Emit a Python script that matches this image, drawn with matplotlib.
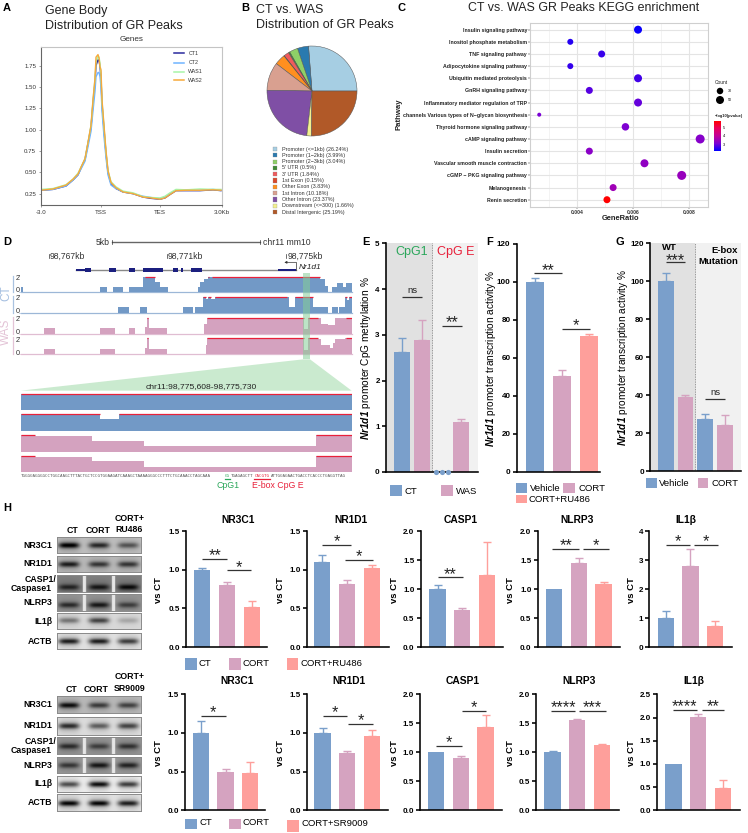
import numpy as np
import matplotlib
matplotlib.use("Agg")
import matplotlib.pyplot as plt
from matplotlib.colors import LinearSegmentedColormap, Normalize
from matplotlib.cm import ScalarMappable
from matplotlib.patches import Rectangle, Polygon

plt.rcParams['font.family'] = ['Liberation Sans', 'DejaVu Sans']
plt.rcParams['mathtext.fontset'] = 'custom'
plt.rcParams['mathtext.rm'] = 'Liberation Sans'
plt.rcParams['mathtext.it'] = 'Liberation Sans:italic'
plt.rcParams['mathtext.bf'] = 'Liberation Sans:bold'
plt.rcParams['mathtext.bfit'] = 'Liberation Sans:italic:bold'

W, H = 748, 833
BLUE, PINK, SALMON = '#7a9fcb', '#d5a3c0', '#fe9f9b'
RED = '#e8203a'
GREEN_T = '#2aa65a'

# ---------- A: profile ----------
profile_bins = [0, 12, 25, 32, 37, 40, 44, 47, 50, 52, 54, 55, 57, 58, 59, 60, 61, 63, 65, 67, 70, 75, 82, 92, 102, 110, 119, 124, 129, 135, 145, 159, 172, 180]
ct1_vals = [.29, .30, .34, .41, .47, .55, .65, .84, 1.03, 1.31, 1.55, 1.75, 1.82, 1.81, 1.74, 1.60, 1.30, 1.00, .72, .50, .37, .31, .27, .25, .21, .195, .185, .20, .24, .285, .285, .285, .295, .285]
ct2_vals = [.29, .30, .34, .41, .47, .54, .63, .80, .98, 1.22, 1.45, 1.62, 1.67, 1.67, 1.62, 1.50, 1.22, .92, .67, .47, .35, .31, .27, .25, .22, .205, .19, .21, .25, .29, .29, .29, .30, .29]
was1_vals = [.30, .31, .355, .42, .49, .56, .66, .85, 1.05, 1.34, 1.60, 1.80, 1.86, 1.85, 1.78, 1.64, 1.33, 1.03, .74, .52, .39, .33, .28, .26, .215, .205, .20, .22, .26, .30, .295, .305, .30, .30]
was2_vals = [.29, .305, .35, .42, .48, .56, .66, .85, 1.05, 1.35, 1.60, 1.85, 1.88, 1.84, 1.74, 1.70, 1.35, 1.05, .75, .52, .38, .32, .27, .25, .21, .20, .185, .20, .24, .285, .29, .29, .295, .29]
profile_names = ['CT1', 'CT2', 'WAS1', 'WAS2']
profile_colors = ['#2a2a9e', '#6fb4ff', '#a8f5a8', '#f7a93b']
profile_ticks = [0, 60, 119, 181]
profile_ticklabels = ['-3.0', 'TSS', 'TES', '3.0Kb']
profile_yticks = [.25, .5, .75, 1.0, 1.25, 1.5, 1.75]

# ---------- B: pie ----------
pie_labels = ['Promoter (<=1kb) (26.24%)', 'Promoter (1\u22122kb) (3.99%)', 'Promoter (2\u22123kb) (3.04%)', "5' UTR (0.5%)",
              "3' UTR (1.84%)", '1st Exon (0.15%)', 'Other Exon (3.83%)', '1st Intron (10.18%)', 'Other Intron (23.37%)',
              'Downstream (<=300) (1.66%)', 'Distal Intergenic (25.19%)']
pie_values = [26.24, 3.99, 3.04, .5, 1.84, .15, 3.83, 10.18, 23.37, 1.66, 25.19]
pie_colors = ['#a6cee3', '#2a7aaf', '#8ed067', '#3f8a35', '#ef5a5c', '#d9482b', '#ff8f1f', '#d9a090', '#7f4fa5', '#f2f08f', '#b15928']

# ---------- C: KEGG ----------
kegg_names = ['Insulin signaling pathway', 'Inositol phosphate metabolism', 'TNF signaling pathway', 'Adipocytokine signaling pathway',
              'Ubiquitin mediated proteolysis', 'GnRH signaling pathway', 'Inflammatory mediator regulation of TRP',
              'channels Various types of N\u2212glycan biosynthesis', 'Thyroid hormone signaling pathway', 'cAMP signaling pathway',
              'Insulin secretion', 'Vascular smooth muscle contraction', 'cGMP \u2212 PKG signaling pathway', 'Melanogenesis', 'Renin secretion']
kegg_ratio = [.00618, .00376, .00488, .00376, .00618, .00444, .00618, .00265, .00573, .0084, .00444, .00641, .00774, .00529, .00507]
kegg_diam = [8, 6, 7, 6, 8, 7, 8, 4, 7.5, 9, 7, 8, 9, 7, 7]
kegg_logp = [2.3, 2.5, 2.65, 2.6, 2.7, 2.85, 2.95, 3.1, 3.15, 3.25, 3.3, 3.38, 3.45, 3.55, 5.7]

# ---------- D: tracks (start bin, end bin, relative height) ----------
track_ct1 = [(62, 70, .3), (300, 320, .3), (338, 370, .3), (386, 428, .3), (428, 465, .95), (465, 480, .67), (480, 505, .3),
             (595, 600, .3), (600, 612, .63), (612, 625, .85), (625, 635, .95), (635, 960, 1), (960, 975, .85), (975, 985, .4),
             (995, 1010, .3), (1010, 1030, .6), (1030, 1038, .3), (1038, 1055, .6)]
track_ct2 = [(354, 386, .37), (420, 440, .37), (550, 580, .37), (585, 608, .37), (608, 618, 1), (618, 625, .85), (625, 632, 1), (632, 645, .85),
             (645, 868, 1), (868, 884, .37), (884, 938, 1), (938, 985, .37), (997, 1015, .37), (1018, 1035, .4), (1035, 1042, 1), (1042, 1047, .8), (1047, 1055, 1)]
track_was1 = [(132, 165, .33), (300, 344, .33), (387, 404, .33), (435, 440, .4), (440, 447, 1), (447, 500, .33), (612, 622, .6), (622, 912, 1),
              (912, 925, .3), (925, 955, 1), (955, 962, .95), (962, 985, .6), (985, 1005, .55), (1005, 1035, .95), (1035, 1055, 1)]
track_was2 = [(132, 165, .33), (300, 344, .33), (435, 440, .4), (440, 447, 1), (447, 500, .33), (618, 622, .6), (622, 912, 1),
              (912, 925, .3), (925, 955, 1), (955, 962, .95), (962, 990, .6), (990, 1000, .4), (1000, 1005, .7), (1005, 1035, .95), (1035, 1055, 1)]
red_ct1 = [(435, 465), (625, 628), (635, 960)]
red_ct2 = [(610, 618), (625, 632), (645, 862), (886, 938), (1035, 1042), (1047, 1055)]
red_was1 = [(440, 443), (622, 912), (925, 955), (1038, 1055)]
red_was2 = [(440, 443), (622, 912), (925, 955), (1038, 1055)]
zoom_a = [(62, 1055, 1)]
zoom_b = [(62, 300, 1), (300, 358, .7), (358, 1055, 1)]
zoom_c = [(62, 105, 1), (105, 275, .94), (275, 433, .65), (433, 948, .33), (948, 1055, 1)]
red_za = [(62, 1055)]
red_zb = [(62, 300), (358, 1055)]
red_zc = [(62, 105), (948, 1055)]
seq_left, seq_cg, seq_mid, seq_ebox, seq_right = ('TGGGGAGGGGCCTGGCAAGCTTTACTGCTCCGTGGAAGATCAAAGCTAAAAGGGCCCTTTCTGCAAACCTAGCAAA', 'CG', 'TGAGAGCTT', 'CACGTG',
                                                  'ATTGGAGAACTGACCTCACCCTGAGGTTAG')
exon_thick = [(255, 272), (327, 348), (386, 404), (430, 488), (520, 534), (542, 550), (574, 605)]
exon_thin = [(228, 255), (835, 888)]

# ---------- E/F/G ----------
e_vals, e_errs = [2.62, 2.89, 0, 1.1], [.31, .43, 0, .05]
f_vals, f_errs = [100, 50.5, 71.5], [2, 3, 1]
g_vals, g_errs = [100, 39, 27.5, 24], [4, 1.2, 2.7, 5.7]
e_dots_x, e_dots_y = [1.72, 2.02, 2.31], [0, 0, 0]

# ---------- H ----------
r1_vals = {'NR3C1': [1.0, .80, .52], 'NR1D1': [1.10, .82, 1.03], 'CASP1': [1.0, .64, 1.24], 'NLRP3': [1.0, 1.46, 1.09], 'IL1\u03b2': [1.0, 2.8, .73]}
r1_errs = {'NR3C1': [.02, .04, .08], 'NR1D1': [.09, .05, .03], 'CASP1': [.07, .03, .57], 'NLRP3': [0, .08, .03], 'IL1\u03b2': [.24, .6, .16]}
r2_vals = {'NR3C1': [1.0, .49, .48], 'NR1D1': [1.0, .74, .96], 'CASP1': [1.0, .90, 1.44], 'NLRP3': [1.0, 1.56, 1.12], 'IL1\u03b2': [1.0, 2.02, .48]}
r2_errs = {'NR3C1': [.16, .05, .14], 'NR1D1': [.07, .03, .08], 'CASP1': [0, .04, .2], 'NLRP3': [.03, .02, .02], 'IL1\u03b2': [0, .05, .18]}

fig = plt.figure(figsize=(W/100, H/100), dpi=100, facecolor='white')

def axpx(l, t, r, b, **kw):
    return fig.add_axes([l/W, 1-b/H, (r-l)/W, (b-t)/H], **kw)

ov = fig.add_axes([0, 0, 1, 1], zorder=20)
ov.set_xlim(0, W); ov.set_ylim(H, 0); ov.axis('off'); ov.patch.set_alpha(0)

def T(x, y, s, size=6, ha='left', va='center', **kw):
    return ov.text(x, y, s, fontsize=size, ha=ha, va=va, **kw)

# panel letters
for s, x, y in [('A', 3, 8), ('B', 241, 8), ('C', 398, 8), ('D', 3, 242), ('E', 362, 242), ('F', 486, 242), ('G', 616, 242), ('H', 3, 508)]:
    T(x, y, s, size=8, fontweight='bold')

# ---- A ----
T(45, 11, 'Gene Body', 9, color='#222222')
T(45, 25.5, 'Distribution of GR Peaks', 9, color='#222222')
axA = axpx(41, 47, 222, 205)
for v, c, n in zip([ct1_vals, ct2_vals, was1_vals, was2_vals], profile_colors, profile_names):
    axA.plot(profile_bins, v, color=c, lw=1.0, label=n)
axA.set_xlim(0, 181); axA.set_ylim(.117, 1.969)
axA.set_xticks(profile_ticks); axA.set_xticklabels(profile_ticklabels, fontsize=4.4, color='#333')
axA.set_yticks(profile_yticks); axA.set_yticklabels(['%.2f' % v for v in profile_yticks], fontsize=4.4, color='#333')
axA.tick_params(length=1.5, width=.4, pad=2, color='#555')
for s in axA.spines.values():
    s.set_color('#c4c4c4'); s.set_linewidth(.8)
axA.spines['left'].set_color('#666'); axA.spines['bottom'].set_color('#666')
axA.set_title('Genes', fontsize=5.9, pad=4, color='#333')
for y, c, n in zip([53.3, 62.7, 71.7, 80.3], profile_colors, profile_names):
    ov.plot([173.7, 184], [y, y], color=c, lw=1.1)
    T(188.3, y, n, 3.8, color='#333')

# ---- B ----
T(256, 10, 'CT vs. WAS', 9, color='#222222')
T(256, 25, 'Distribution of GR Peaks', 9, color='#222222')
axB = axpx(267, 46, 357, 136)
axB.pie(pie_values, colors=pie_colors, startangle=0, counterclock=True, radius=1,
        wedgeprops=dict(edgecolor='#555555', linewidth=.35))
axB.set_xlim(-1, 1); axB.set_ylim(-1, 1)
for y, c, n in zip(np.linspace(149, 212, 11), pie_colors, pie_labels):
    ov.add_patch(Rectangle((273, y-2.1), 4.2, 4.2, fc=c, ec='#888', lw=.2))
    T(282, y, n, 3.85, color='#333')

# ---- C ----
T(583.5, 8, 'CT vs. WAS GR Peaks KEGG enrichment', 8.9, ha='center', color='#222222')
axC = axpx(530, 23, 708, 207)
ypos = np.arange(len(kegg_names))[::-1]
cmap = LinearSegmentedColormap.from_list('br', [(0, '#0000ff'), (.25, '#7a00d4'), (.5, '#c0009a'), (.75, '#e8005e'), (1, '#ff0000')])
norm = Normalize(2.23, 5.7)
axC.set_axisbelow(True)
axC.scatter(kegg_ratio, ypos, s=[(d*.72)**2 for d in kegg_diam], c=kegg_logp, cmap=cmap, norm=norm, linewidths=0, zorder=3)
axC.set_xlim(.00232, .00868); axC.set_ylim(-.6, 14.55)
axC.set_xticks([.004, .006, .008]); axC.set_xticklabels(['0.004', '0.006', '0.008'], fontsize=3.6, fontweight='bold', color='#333')
axC.set_xticks([.003, .005, .007], minor=True)
axC.set_yticks(ypos); axC.set_yticklabels(kegg_names, fontsize=3.75, fontweight='bold', color='#222')
axC.grid(True, which='major', color='#e4e4e4', lw=.8)
axC.grid(True, which='minor', axis='x', color='#eeeeee', lw=.5)
axC.tick_params(which='major', length=1.2, width=.3, pad=1)
axC.tick_params(which='minor', length=0)
for s in axC.spines.values():
    s.set_color('#cfcfcf'); s.set_linewidth(.8)
T(621, 218, 'GeneRatio', 5.4, ha='center', fontweight='bold', color='#222')
T(399, 114, 'Pathway', 5.6, ha='center', rotation=90, fontweight='bold', color='#222')
T(714.5, 82, 'Count', 3.5, color='#222')
ov.scatter([720, 720], [91, 100], s=[(6.5*.72)**2, (8*.72)**2], c='black', linewidths=0)
T(728, 91, '30', 2.6); T(728, 100, '50', 2.6)
T(714.5, 115.5, '\u2212log10(pvalue)', 2.9, fontweight='bold', color='#222')
cax = axpx(714, 121, 721, 151)
cb = fig.colorbar(ScalarMappable(norm=norm, cmap=cmap), cax=cax, ticks=[3, 4, 5])
cb.outline.set_visible(False)
cb.ax.tick_params(labelsize=2.8, length=0, pad=1.5)

# ---- D ----
zy = lambda v: 230 + v/3
T(96, zy(36), '5kb', 6.2, color='#333')
ov.plot([112, 260], [zy(36)]*2, color='#666', lw=1)
ov.plot([112, 112], [zy(31), zy(41)], color='#333', lw=.5); ov.plot([260, 260], [zy(31), zy(41)], color='#333', lw=.5)
T(263.3, zy(36), 'chr11 mm10', 6.2, color='#333')
for x, s in [(146, '98,767kb'), (500, '98,771kb'), (858, '98,775kb')]:
    ov.plot([x/3, x/3], [zy(72), zy(85)], color='#333', lw=.5)
    T(x/3+1.2, zy(78), s, 6.2, color='#333')
ov.plot([76, 296], [zy(119)]*2, color='#888', lw=1)
for a, b in exon_thick:
    ov.add_patch(Rectangle((a/3, zy(113)), (b-a)/3, 4, fc='#1b1f7f', ec='none', zorder=4))
for a, b in exon_thin:
    ov.add_patch(Rectangle((a/3, zy(117)), (b-a)/3, 1.6, fc='#1b1f7f', ec='none', zorder=4))
ov.plot([888/3, 888/3], [zy(119), zy(97)], color='#333', lw=.5)
ov.annotate('', xy=(853/3, zy(97)), xytext=(888/3, zy(97)), arrowprops=dict(arrowstyle='-|>', lw=.5, color='#333', mutation_scale=3.5, shrinkA=0, shrinkB=0))
T(897/3, zy(112), 'Nr1d1', 6, style='italic', color='#222')

def track(tz, bz, segs, reds, color, base=True, x0=62, x1=1055):
    ax = axpx(x0/3, zy(tz), x1/3, zy(bz))
    ax.bar([s[0] for s in segs], [s[2] for s in segs], [s[1]-s[0] for s in segs], align='edge', color=color, lw=0)
    ax.hlines([1.0]*len(reds), [r[0] for r in reds], [r[1] for r in reds], color=RED, lw=.9)
    ax.set_xlim(x0, x1); ax.set_ylim(0, 1.06)
    ax.axis('off')
    if base:
        ax.axhline(0, color=color, lw=.9, alpha=.7, clip_on=False)
    return ax

CTC, WASC = '#7299c6', '#d4a2bf'
track(137, 186, track_ct1, red_ct1, CTC)
track(198, 249, track_ct2, red_ct2, CTC)
track(260, 311, track_was1, red_was1, WASC)
track(322, 373, track_was2, red_was2, WASC)
for tz, bz, c in [(137, 186, '#a9c2e0'), (198, 249, '#a9c2e0'), (260, 311, '#e3c3d6'), (322, 373, '#e3c3d6')]:
    ov.plot([40/3, 40/3], [zy(tz), zy(bz)], color=c, lw=.9)
    T(15.7, zy(tz+8), "2'", 5.2, ha='left', color='#333')
    T(15.7, zy(bz-4), '0', 5.2, ha='left', color='#333')
    ov.plot([19, 20.7], [zy(bz)]*2, color=c, lw=.5)
T(6, zy(190), 'CT', 8.5, ha='center', rotation=90, color='#a5bfe0')
T(6, zy(305), 'WAS', 8.5, ha='center', rotation=90, color='#e3c3d6')

track(488, 540, zoom_a, red_za, CTC, base=False)
track(550, 604, zoom_b, red_zb, CTC, base=False)
track(612, 665, zoom_c, red_zc, WASC, base=False)
track(674, 727, zoom_c, red_zc, WASC, base=False)
ov.add_patch(Rectangle((910/3, zy(130)), 20/3, (388-130)/3, fc='#86cf98', ec='none', alpha=.55))
ov.add_patch(Polygon([(910/3, zy(388)), (930/3, zy(388)), (1055/3, zy(482)), (62/3, zy(482))], fc='#bde5c3', ec='none', alpha=.8))
T(200.8, zy(470), 'chr11:98,775,608-98,775,730', 6.1, ha='center', color='#222')

nseq = len(seq_left)+len(seq_cg)+len(seq_mid)+len(seq_ebox)+len(seq_right)
cw = 331/nseq
fs = cw/.602*.72*.95
xc = 62/3
for part, c in [(seq_left, '#555'), (seq_cg, GREEN_T), (seq_mid, '#555'), (seq_ebox, RED), (seq_right, '#555')]:
    T(xc, zy(738), part, fs, family='DejaVu Sans Mono', color=c)
    xc += cw*len(part)
ov.plot([675/3, 690/3], [zy(748)]*2, color=GREEN_T, lw=.9)
ov.plot([762/3, 810/3], [zy(748)]*2, color=RED, lw=.9)
T(684/3, zy(767), 'CpG1', 6.3, ha='center', color=GREEN_T)
T(834/3, zy(767), 'E-box CpG E', 6.3, ha='center', color=RED)

# ---- bar helpers ----
def bar_axes(l, t, r, b, c0, sp, vals, errs, colors, ylim, yticks, ylab=None, width=.66, fmt=None, tsize=5.8, lw=1.15):
    ax = axpx(l, t, r, b)
    ax.patch.set_alpha(0)
    xs = np.arange(len(vals))
    ax.bar(xs, vals, width, color=colors, lw=0, zorder=2)
    for x, v, e, c in zip(xs, vals, errs, colors):
        if e > 0:
            ax.errorbar([x], [v], yerr=[[0], [e]], color=c, lw=1.0, capsize=2.6, capthick=1.0, zorder=2)
    ax.set_xlim((l-c0)/sp, (r-c0)/sp); ax.set_ylim(*ylim)
    ax.set_xticks([]); ax.set_yticks(yticks)
    ax.set_yticklabels([(fmt % v) for v in yticks] if fmt else [str(v) for v in yticks], fontsize=tsize, fontweight='bold')
    ax.tick_params(axis='y', length=3, width=lw, pad=1.5)
    for s in ['top', 'right']:
        ax.spines[s].set_visible(False)
    for s in ['left', 'bottom']:
        ax.spines[s].set_linewidth(lw)
    return ax

def sig(ax, x0, x1, y, label, size=11.7, dy=-1):
    ax.plot([x0, x1], [y, y], color='#333', lw=.9, zorder=4, solid_capstyle='butt', clip_on=False)
    ns = label == 'ns'
    ax.annotate(label, xy=((x0+x1)/2, y), xytext=(0, 2.5 if ns else dy), textcoords='offset points', ha='center', va='baseline',
                fontsize=6.8 if ns else size, annotation_clip=False, color='#222')

def yl(x, ymid, s, size=7.2, **kw):
    T(x, ymid, s, size, ha='center', rotation=90, **kw)

NR = r'$\mathbfit{Nr1d1}$'

def legend_sq(x0, x1, y0, y1, c):
    ov.add_patch(Rectangle((x0, y0), x1-x0, y1-y0, fc=c, ec='none'))

# ---- E ----
e_l, e_r = 386, 478
cE, sE = 111.5/3+365, 59/3
axE = bar_axes(e_l, 243.3, e_r, 472, cE, sE, e_vals, e_errs, [BLUE, PINK, BLUE, PINK], (0, 5), [0, 1, 2, 3, 4, 5], width=.8)
axE.axvspan(-1, 1.5, color='#e1e1e1', zorder=0, lw=0); axE.axvspan(1.5, 5, color='#f1f1f1', zorder=0, lw=0)
axE.axvline(1.5, color='#777', lw=.6, ls=(0, (1, 1)), zorder=1)
axE.scatter(e_dots_x, e_dots_y, s=14, color=BLUE, clip_on=False, zorder=5, linewidths=0)
sig(axE, .0, 1.0, 3.83, 'ns'); sig(axE, 2.05, 3.03, 3.2, '**')
axE.text(.5, 4.8, 'CpG1', fontsize=9, ha='center', va='center', color=GREEN_T)
axE.text(2.72, 4.8, 'CpG E', fontsize=9, ha='center', va='center', color=RED)
yl(366, 358, NR+' promoter CpG methylation %', 7.3)
legend_sq(390, 402, 485, 496, BLUE); T(405, 491, 'CT', 6.8)
legend_sq(441, 453, 485, 496, PINK); T(456, 491, 'WAS', 6.8)

# ---- F ----
cF, sF = 510/3+365, 81.5/3
axF = bar_axes(516.7, 244, 600, 471.7, cF, sF, f_vals, f_errs, [BLUE, PINK, SALMON], (0, 120), [0, 20, 40, 60, 80, 100, 120])
sig(axF, -.02, 1.0, 104.5, '**'); sig(axF, .98, 2.02, 75.4, '*')
yl(491, 358, NR+' promoter transcription activity %', 7.3)
legend_sq(516, 527, 483, 493, BLUE); T(530, 488.5, 'Vehicle', 6.8)
legend_sq(563, 575, 483, 493, PINK); T(578.5, 488.5, 'CORT', 6.8)
legend_sq(516, 527, 495, 503, SALMON); T(529, 499, 'CORT+RU486', 6.8)

# ---- G ----
cG, sG = 902.5/3+365, 59/3
axG = bar_axes(650, 243, 741, 471, cG, sG, g_vals, g_errs, [BLUE, PINK, BLUE, PINK], (0, 120), [0, 20, 40, 60, 80, 100, 120], width=.8)
axG.axvspan(-1, 1.5, color='#e1e1e1', zorder=0, lw=0); axG.axvspan(1.5, 6, color='#f1f1f1', zorder=0, lw=0)
axG.axvline(1.5, color='#777', lw=.6, ls=(0, (1, 1)), zorder=1)
sig(axG, 0, 1, 110, '***', dy=-2); sig(axG, 2, 3, 38, 'ns')
axG.text(.17, 117.7, 'WT', fontsize=6.8, fontweight='bold', ha='center', va='center')
axG.text(3.68, 116.3, 'E-box', fontsize=6.8, fontweight='bold', ha='right', va='center')
axG.text(3.68, 110.5, 'Mutation', fontsize=6.8, fontweight='bold', ha='right', va='center')
yl(622.7, 357, NR+' promoter transcription activity %', 7.3)
legend_sq(645.7, 656.7, 477.7, 488.3, BLUE); T(659, 483.3, 'Vehicle', 6.8)
legend_sq(697.7, 708, 477.7, 488.3, PINK); T(712, 483.3, 'CORT', 6.8)

# ---- H blots ----
blot_names = ['NR3C1', 'NR1D1', 'CASP1/\nCaspase1', 'NLRP3', 'IL1\u03b2', 'ACTB']
b1_y = [(536.7, 553.3), (555.7, 572.3), (575.3, 592.3), (594.3, 610.7), (612.7, 629.3), (632.7, 649.3)]
b2_y = [(696, 712.7), (717.3, 734.7), (737.3, 754.3), (756.7, 773.3), (775.7, 792.3), (794.3, 811)]
b1_bg = [.74, .72, .5, .58, .85, .88]
b2_bg = [.72, .86, .58, .6, .92, .88]
b1_str = [[.62, .48, .34], [.5, .42, .42], [.3, .34, .38], [.34, .4, .28], [.32, .48, .16], [.62, .62, .52]]
b2_str = [[.55, .4, .38], [.56, .4, .48], [.34, .28, .32], [.32, .42, .38], [.5, .7, .55], [.7, .7, .62]]
b1_row = [.55, .55, .72, .65, .5, .55]
b2_row = [.55, .5, .55, .55, .55, .55]
lanes = [.14, .5, .85]

def blot(x0, x1, y0, y1, bg, strength, row, gaps):
    ax = axpx(x0, y0, x1, y1)
    ny, nx = 40, 130
    yy, xx = np.meshgrid(np.linspace(0, 1, ny), np.linspace(0, 1, nx), indexing='ij')
    im = np.full((ny, nx), float(bg))
    for lc, s in zip(lanes, strength):
        lane = np.exp(-(np.abs(xx-lc)/.125)**4)
        im -= s*lane*np.exp(-((yy-row)/.16)**2)
        im -= .25*s*lane*np.exp(-((yy-row)/.4)**2)
    if gaps:
        for g in (.325, .675):
            im = np.where(np.abs(xx-g) < .022, .9, im)
    ax.imshow(np.clip(im, 0, 1), cmap='gray', vmin=0, vmax=1, aspect='auto', interpolation='bilinear')
    ax.set_xticks([]); ax.set_yticks([])
    for s in ax.spines.values():
        s.set_color('#8a8a8a'); s.set_linewidth(.7)

def blots(ys, bgs, strs, rows, labx):
    for i, ((t, b), bg, st, r, n) in enumerate(zip(ys, bgs, strs, rows, blot_names)):
        blot(57, 141, t, b, bg, st, r, i in (2, 3))
        ym = (t+b)/2
        if i == 2:
            T(56, t+4.5, 'CASP1/', 6.3, ha='right', fontweight='bold')
            T(52, t+13.5, 'Caspase1', 6.3, ha='right', fontweight='bold')
        else:
            T(labx, ym, n, 6.3, ha='right', fontweight='bold')

blots(b1_y, b1_bg, b1_str, b1_row, 52.5)
blots(b2_y, b2_bg, b2_str, b2_row, 52.5)
T(72.7, 530.7, 'CT', 6.3, ha='center', fontweight='bold'); T(97.7, 530.7, 'CORT', 6.3, ha='center', fontweight='bold')
T(130, 518.3, 'CORT+', 6.3, ha='center', fontweight='bold'); T(129.3, 529.5, 'RU486', 6.3, ha='center', fontweight='bold')
T(71.7, 689.3, 'CT', 6.3, ha='center', fontweight='bold'); T(96, 689.3, 'CORT', 6.3, ha='center', fontweight='bold')
T(130, 676.7, 'CORT+', 6.3, ha='center', fontweight='bold'); T(130, 688.3, 'SR9009', 6.3, ha='center', fontweight='bold')

# ---- H bars ----
names = ['NR3C1', 'NR1D1', 'CASP1', 'NLRP3', 'IL1\u03b2']
r1_geom = [(186, 266.7, 607/3), (307.3, 389, 967/3), (420.7, 503, 142.5/3+390), (537.7, 620, 492.5/3+390), (649.3, 732.3, 827.5/3+390)]
r2_geom = [(185, 265.3, 602.5/3), (307.3, 388.3, 967.5/3), (420, 502.3, 138.5/3+390), (536, 618.7, 487.5/3+390), (657.3, 740, 850.5/3+390)]
r_ylim = [[1.5, 1.5, 2.0, 2.0, 4], [1.5, 1.5, 2.0, 2.0, 2.5]]
r_ticks = [[[0, .5, 1, 1.5], [0, .5, 1, 1.5], [0, .5, 1, 1.5, 2], [0, .5, 1, 1.5, 2], [0, 1, 2, 3, 4]],
           [[0, .5, 1, 1.5], [0, .5, 1, 1.5], [0, .5, 1, 1.5, 2], [0, .5, 1, 1.5, 2], [0, .5, 1, 1.5, 2, 2.5]]]
r1_sig = [[(0, 1, 1.146, '**'), (1, 1.99, .994, '*')], [(0, 1.18, 1.323, '*'), (.9, 2.07, 1.128, '*')], [(0, 1.05, 1.205, '**')],
          [(-.07, 1.0, 1.70, '**'), (1.17, 2.24, 1.70, '*')], [(0, 1, 3.53, '*'), (1.13, 2.1, 3.53, '*')]]
r2_sig = [[(0, 1, 1.22, '*')], [(0, 1, 1.22, '*'), (1.05, 2.03, 1.12, '*')], [(0, 1.03, 1.115, '*'), (1.06, 2.02, 1.71, '*')],
          [(-.06, .93, 1.71, '****'), (1.09, 2.17, 1.71, '***')], [(-.03, .95, 2.17, '****'), (1.14, 2.06, 2.17, '**')]]
t1_x = [238, 351, 461, 577.3, 686]
t2_x = [237, 349.3, 462.7, 578.7, 694]
vs_x = [159, 281, 395, 510.7, 631.7]
sp_h = 74/3
for row, (top, bot, vals, errs, geom, sigs, tx, ty) in enumerate([(531.3, 647, r1_vals, r1_errs, r1_geom, r1_sig, t1_x, 520),
                                                                  (694.3, 810.3, r2_vals, r2_errs, r2_geom, r2_sig, t2_x, 680.7)]):
    for i, n in enumerate(names):
        l, r, c0 = geom[i]
        ylim = r_ylim[row][i]
        ticks = r_ticks[row][i]
        fmt = '%d' if ylim == 4 else '%.1f'
        ax = bar_axes(l, top, r, bot, c0, sp_h, vals[n], errs[n], [BLUE, PINK, SALMON], (0, ylim), ticks, fmt=fmt)
        for x0, x1, y, lab in sigs[i]:
            sig(ax, x0, x1, y, lab)
        T(tx[i], ty, n, 7.4, ha='center', fontweight='bold')
        yl(vs_x[i], (top+bot)/2+1, 'vs CT', 6.8, fontweight='bold')

legend_sq(185, 196.7, 658, 670, BLUE); T(199, 664, 'CT', 6.8)
legend_sq(228.7, 240.7, 658, 670, PINK); T(242.7, 664, 'CORT', 6.8)
legend_sq(286.7, 298.3, 658, 670, SALMON); T(301, 664, 'CORT+RU486', 6.8)
legend_sq(185, 196.7, 818.7, 829.3, BLUE); T(200, 822.7, 'CT', 6.8)
legend_sq(228.7, 240.7, 818.7, 829.3, PINK); T(243, 822.7, 'CORT', 6.8)
legend_sq(287.3, 299, 820, 831.7, SALMON); T(301.7, 823.7, 'CORT+SR9009', 6.8)

fig.savefig('out.png', dpi=100)
